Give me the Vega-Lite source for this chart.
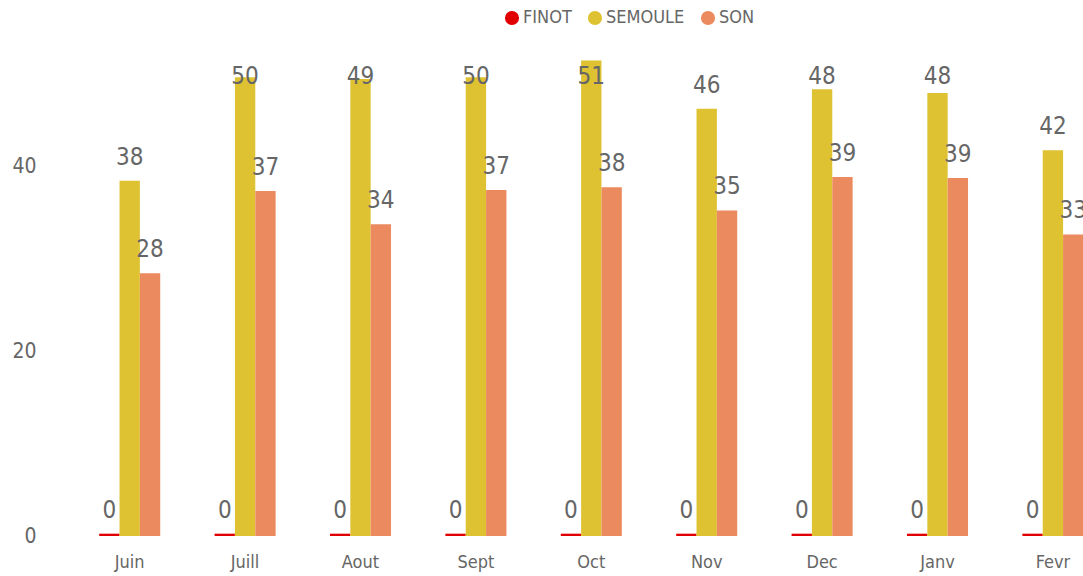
{
  "$schema": "https://vega.github.io/schema/vega-lite/v6.json",
  "width": 1011,
  "height": 481,
  "autosize": {"type": "none"},
  "padding": {"left": 72, "top": 55, "right": 0, "bottom": 40},
  "background": "white",
  "config": {
    "view": {"stroke": null},
    "font": "Liberation Sans Narrow, DejaVu Sans Condensed, Open Sans"
  },
  "data": {
    "values": [
      {"mois": "Juin", "produit": "FINOT", "valeur": 0.25},
      {"mois": "Juin", "produit": "SEMOULE", "valeur": 38.4},
      {"mois": "Juin", "produit": "SON", "valeur": 28.4},
      {"mois": "Juill", "produit": "FINOT", "valeur": 0.25},
      {"mois": "Juill", "produit": "SEMOULE", "valeur": 49.6},
      {"mois": "Juill", "produit": "SON", "valeur": 37.3},
      {"mois": "Aout", "produit": "FINOT", "valeur": 0.25},
      {"mois": "Aout", "produit": "SEMOULE", "valeur": 49.4},
      {"mois": "Aout", "produit": "SON", "valeur": 33.7},
      {"mois": "Sept", "produit": "FINOT", "valeur": 0.25},
      {"mois": "Sept", "produit": "SEMOULE", "valeur": 49.6},
      {"mois": "Sept", "produit": "SON", "valeur": 37.4},
      {"mois": "Oct", "produit": "FINOT", "valeur": 0.25},
      {"mois": "Oct", "produit": "SEMOULE", "valeur": 51.4},
      {"mois": "Oct", "produit": "SON", "valeur": 37.7},
      {"mois": "Nov", "produit": "FINOT", "valeur": 0.25},
      {"mois": "Nov", "produit": "SEMOULE", "valeur": 46.2},
      {"mois": "Nov", "produit": "SON", "valeur": 35.2},
      {"mois": "Dec", "produit": "FINOT", "valeur": 0.25},
      {"mois": "Dec", "produit": "SEMOULE", "valeur": 48.3},
      {"mois": "Dec", "produit": "SON", "valeur": 38.8},
      {"mois": "Janv", "produit": "FINOT", "valeur": 0.25},
      {"mois": "Janv", "produit": "SEMOULE", "valeur": 47.9},
      {"mois": "Janv", "produit": "SON", "valeur": 38.7},
      {"mois": "Fevr", "produit": "FINOT", "valeur": 0.25},
      {"mois": "Fevr", "produit": "SEMOULE", "valeur": 41.7},
      {"mois": "Fevr", "produit": "SON", "valeur": 32.6}
    ]
  },
  "encoding": {
    "x": {
      "field": "mois",
      "type": "nominal",
      "sort": null,
      "scale": {"range": [0, 1038.6], "paddingInner": 0.471, "paddingOuter": 0.2355},
      "axis": {
        "title": null,
        "domain": false,
        "ticks": false,
        "labelAngle": 0,
        "labelFontSize": 18,
        "labelColor": "#666666",
        "labelPadding": 17
      }
    },
    "xOffset": {
      "field": "produit",
      "type": "nominal",
      "scale": {"paddingInner": 0, "paddingOuter": 0}
    }
  },
  "layer": [
    {
      "mark": {"type": "bar"},
      "encoding": {
        "y": {
          "field": "valeur",
          "type": "quantitative",
          "scale": {"domain": [0, 52], "nice": false},
          "axis": {
            "title": null,
            "domain": false,
            "ticks": false,
            "grid": false,
            "values": [0, 20, 40],
            "labelFontSize": 21,
            "labelColor": "#666666",
            "labelPadding": 36
          }
        },
        "color": {
          "field": "produit",
          "type": "nominal",
          "scale": {"domain": ["FINOT", "SEMOULE", "SON"], "range": ["#E00000", "#DFC231", "#EB8A5E"]},
          "legend": {
            "orient": "none",
            "legendX": 431,
            "legendY": -46,
            "direction": "horizontal",
            "title": null,
            "symbolType": "circle",
            "symbolSize": 200,
            "symbolStrokeWidth": 0,
            "labelFontSize": 18,
            "labelColor": "#666666",
            "labelOffset": 2,
            "columnPadding": 14
          }
        }
      }
    },
    {
      "mark": {"type": "text", "dy": -16, "baseline": "alphabetic", "fontSize": 24, "color": "#666666"},
      "encoding": {
        "y": {
          "field": "valeur",
          "type": "quantitative",
          "scale": {"domain": [0, 47.14], "range": [481, 45], "clamp": true, "nice": false},
          "axis": null
        },
        "text": {"field": "valeur", "type": "quantitative", "format": ".0f"}
      }
    }
  ],
  "resolve": {"scale": {"y": "independent"}}
}
